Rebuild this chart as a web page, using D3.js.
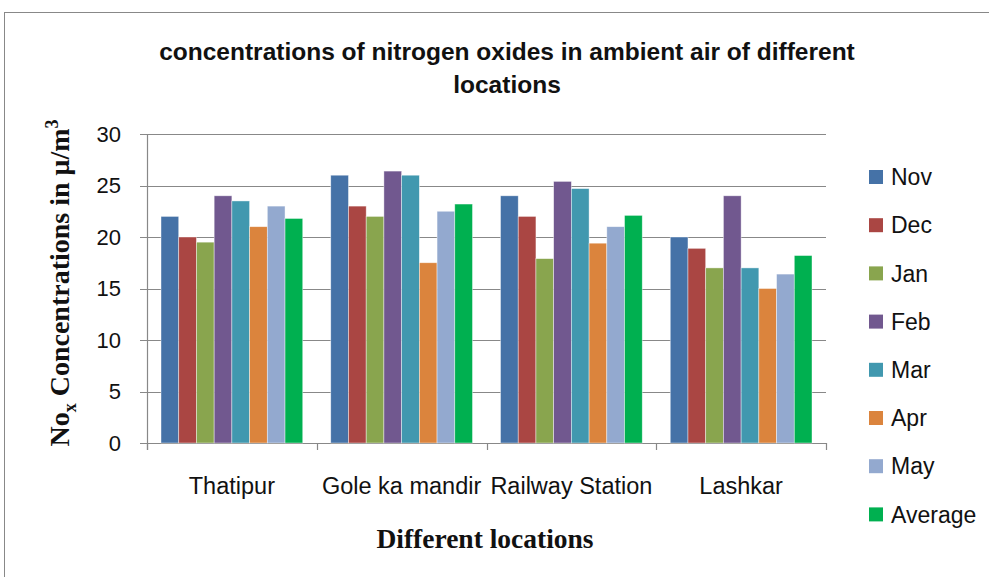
<!DOCTYPE html>
<html>
<head>
<meta charset="utf-8">
<script src="https://cdn.jsdelivr.net/npm/d3@7"></script>
<style>
  body { margin: 0; background: #fff; }
  svg { display: block; }
</style>
</head>
<body>
<svg width="989" height="577"></svg>
<script>
// data
var locations = ["Thatipur", "Gole ka mandir", "Railway Station", "Lashkar"];
var months = ["Nov", "Dec", "Jan", "Feb", "Mar", "Apr", "May", "Average"];
var nov = [22, 26, 24, 20];
var dec = [20, 23, 22, 18.9];
var jan = [19.5, 22, 17.9, 17];
var feb = [24, 26.4, 25.4, 24];
var mar = [23.5, 26, 24.7, 17];
var apr = [21, 17.5, 19.4, 15];
var may = [23, 22.5, 21, 16.4];
var avg = [21.8, 23.2, 22.1, 18.2];
var yTicks = [0, 5, 10, 15, 20, 25, 30];
var colors = ["#4572A7", "#AA4643", "#89A54E", "#71588F", "#4198AF", "#DB843D", "#93A9CF", "#00B050"];

var series = [nov, dec, jan, feb, mar, apr, may, avg];

var svg = d3.select("svg");
var font = "'Liberation Sans', Arial, sans-serif";
var serif = "'Liberation Serif', 'Times New Roman', serif";

// chart border
svg.append("rect")
    .attr("x", 4.5).attr("y", 12.5)
    .attr("width", 1000).attr("height", 600)
    .attr("fill", "none").attr("stroke", "#888");

var pLeft = 147, pRight = 826, pTop = 134, pBottom = 443;

var x0 = d3.scaleBand().domain(locations).range([pLeft, pRight]).paddingInner(0.165).paddingOuter(0.0825);
var x1 = d3.scaleBand().domain(months).range([0, x0.bandwidth()]);
var y = d3.scaleLinear().domain([0, 30]).range([pBottom, pTop]);

// gridlines
svg.append("g").selectAll("line").data(yTicks).enter().append("line")
    .attr("x1", pLeft - 7).attr("x2", pRight)
    .attr("y1", function(d){ return Math.round(y(d)) + 0.5; })
    .attr("y2", function(d){ return Math.round(y(d)) + 0.5; })
    .attr("stroke", "#888").attr("stroke-width", 1.2);

// y tick labels
svg.append("g").selectAll("text").data(yTicks).enter().append("text")
    .attr("x", 121).attr("y", function(d){ return y(d); })
    .attr("dy", "0.35em").attr("text-anchor", "end")
    .style("font-family", font).style("font-size", "22px").attr("fill", "#111")
    .text(function(d){ return d; });

// bars
var groups = svg.append("g").selectAll("g").data(locations).enter().append("g")
    .attr("transform", function(d){ return "translate(" + x0(d) + ",0)"; });

groups.selectAll("rect")
    .data(function(d, i){ return months.map(function(m, j){ return {m: m, v: series[j][i], c: colors[j]}; }); })
    .enter().append("rect")
    .attr("x", function(d){ return x1(d.m); })
    .attr("width", x1.bandwidth())
    .attr("y", function(d){ return y(d.v); })
    .attr("height", function(d){ return y(0) - y(d.v); })
    .attr("fill", function(d){ return d.c; })
    .attr("stroke", "#fff").attr("stroke-opacity", 0.6).attr("stroke-width", 0.7);

// axis lines
svg.append("line").attr("x1", pLeft + 0.5).attr("x2", pLeft + 0.5).attr("y1", pTop).attr("y2", pBottom + 7)
    .attr("stroke", "#888").attr("stroke-width", 1.2);
var bounds = locations.map(function(d){ return x0(d) - x0.step() * x0.paddingInner() / 2; }).concat([pRight]);
svg.append("g").selectAll("line").data(bounds).enter().append("line")
    .attr("x1", function(d){ return Math.round(d) + 0.5; }).attr("x2", function(d){ return Math.round(d) + 0.5; })
    .attr("y1", pBottom).attr("y2", pBottom + 7)
    .attr("stroke", "#888").attr("stroke-width", 1.2);

// x labels
svg.append("g").selectAll("text").data(locations).enter().append("text")
    .attr("x", function(d){ return x0(d) + x0.bandwidth() / 2; })
    .attr("y", 494).attr("text-anchor", "middle")
    .style("font-family", font).style("font-size", "23.5px").attr("fill", "#111")
    .text(function(d){ return d; });

// title
var title = svg.append("text").attr("text-anchor", "middle")
    .style("font-family", font).style("font-size", "24.5px").style("font-weight", "bold").attr("fill", "#111");
title.append("tspan").attr("x", 507).attr("y", 60).text("concentrations of nitrogen oxides in ambient air of different");
title.append("tspan").attr("x", 507).attr("y", 93).text("locations");

// x axis title
svg.append("text").attr("x", 485).attr("y", 548).attr("text-anchor", "middle")
    .style("font-family", serif).style("font-size", "27.5px").style("font-weight", "bold").attr("fill", "#111")
    .text("Different locations");

// y axis title
var yt = svg.append("text").attr("transform", "translate(69,283) rotate(-90)").attr("text-anchor", "middle")
    .style("font-family", serif).style("font-size", "28px").style("font-weight", "bold").attr("fill", "#111");
yt.append("tspan").text("No");
yt.append("tspan").attr("dy", 7).style("font-size", "18px").text("x");
yt.append("tspan").attr("dy", -7).text(" Concentrations in μ/m");
yt.append("tspan").attr("dy", -11).style("font-size", "18px").text("3");

// legend
var legend = svg.append("g").selectAll("g").data(months).enter().append("g")
    .attr("transform", function(d, i){ return "translate(869," + (177 + i * 48.2) + ")"; });
legend.append("rect").attr("x", 0).attr("y", -7).attr("width", 14).attr("height", 14)
    .attr("fill", function(d, i){ return colors[i]; });
legend.append("text").attr("x", 22).attr("y", 0).attr("dy", "0.36em")
    .style("font-family", font).style("font-size", "23px").attr("fill", "#111")
    .text(function(d){ return d; });
</script>
</body>
</html>
